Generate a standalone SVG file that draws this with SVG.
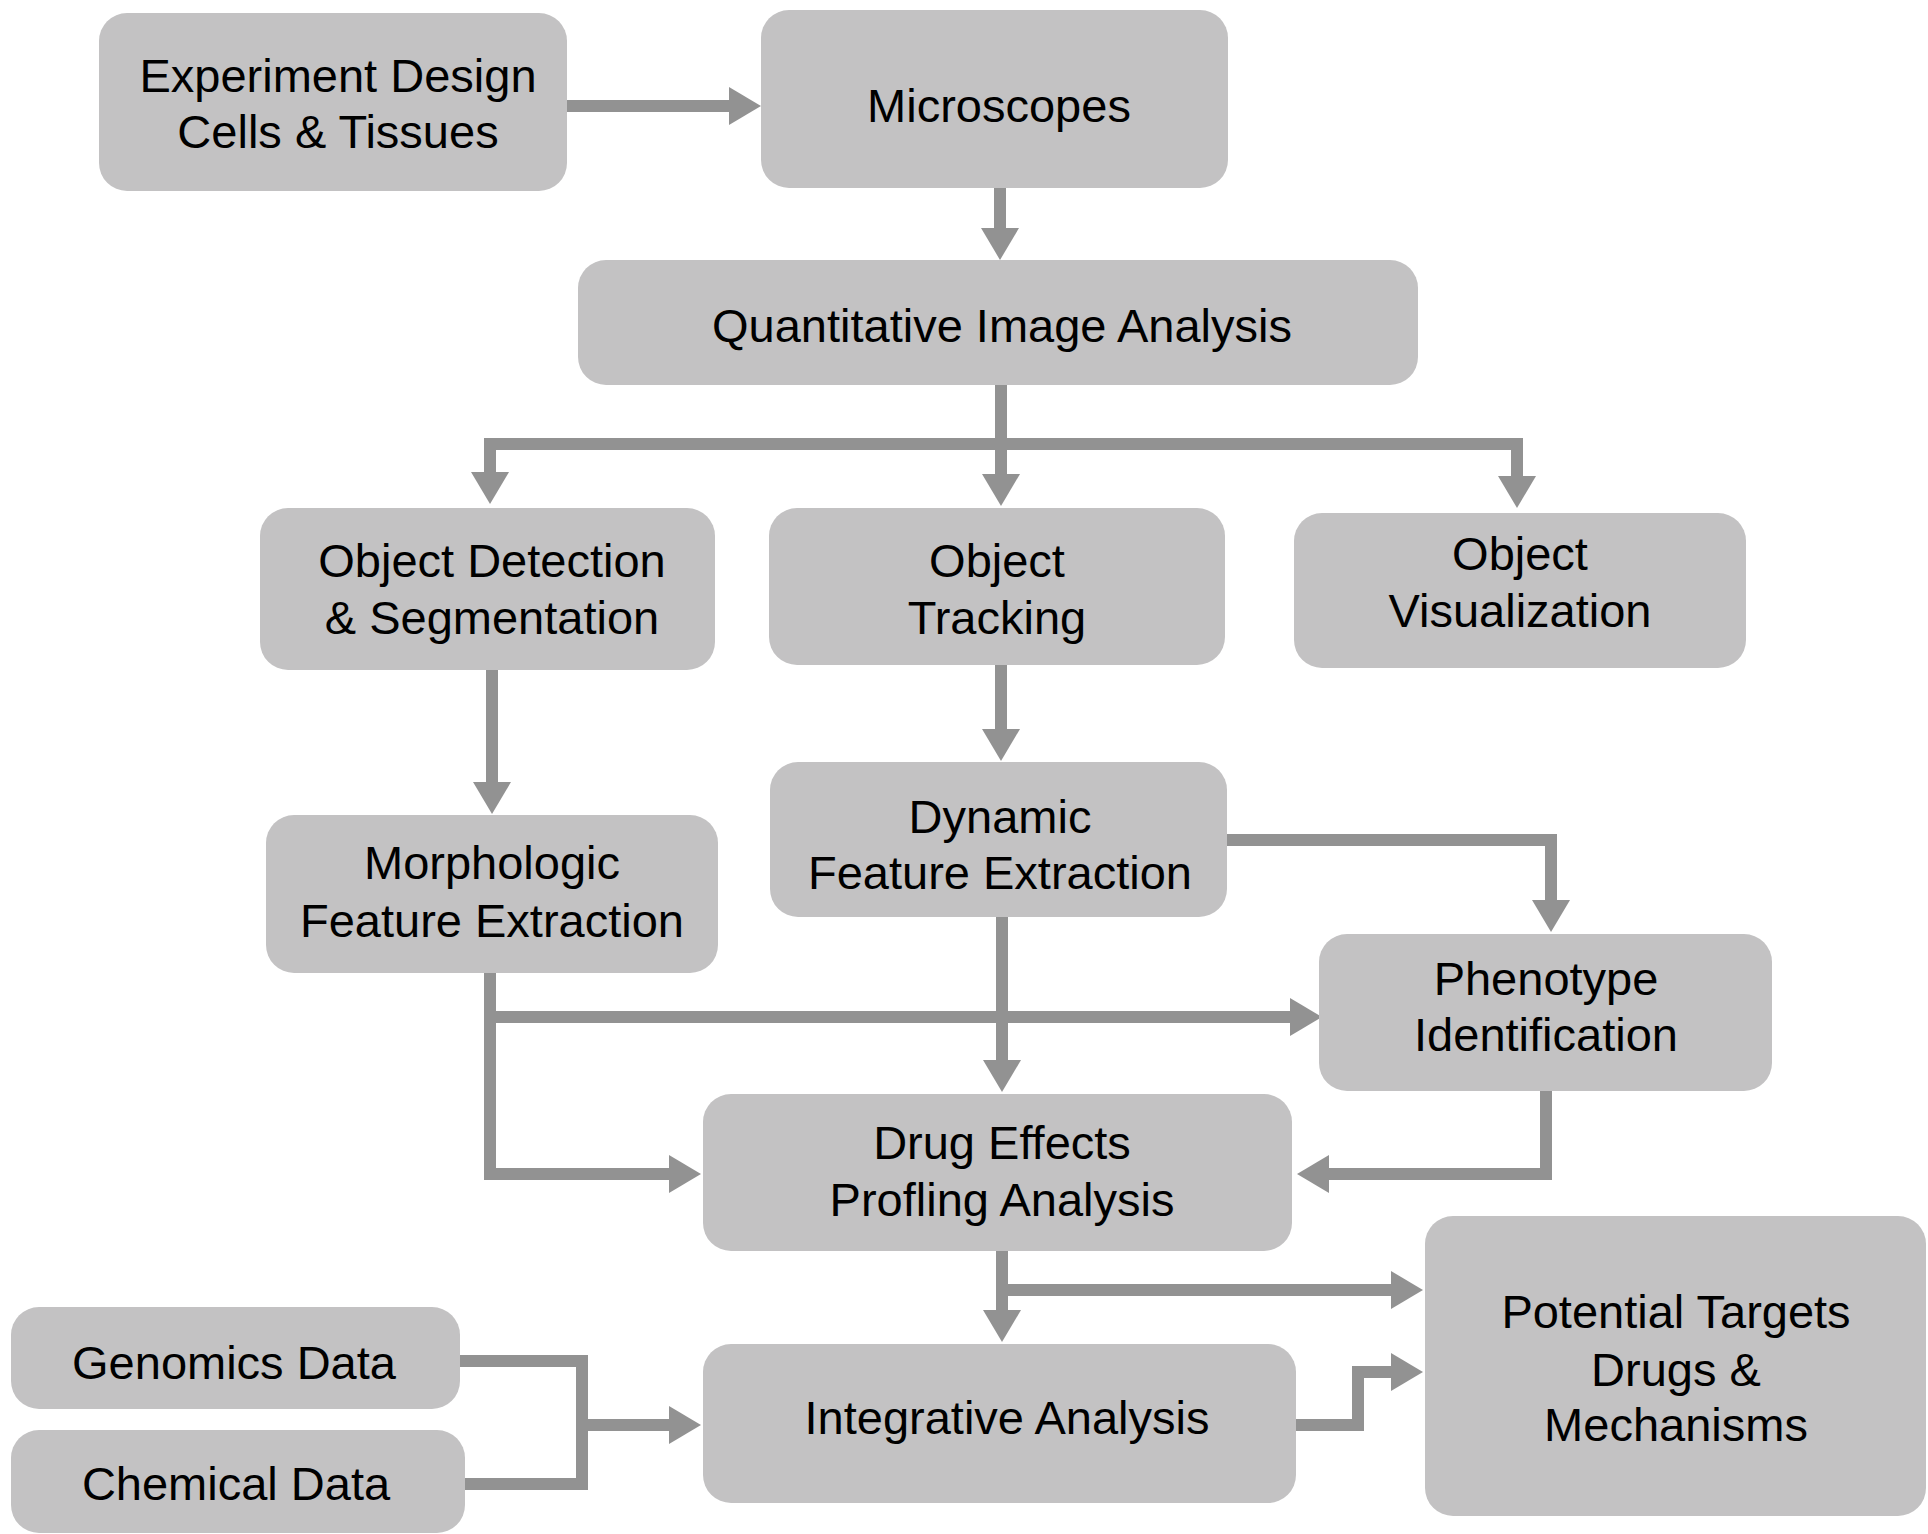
<svg xmlns="http://www.w3.org/2000/svg" width="1928" height="1534" viewBox="0 0 1928 1534">
<style>
.box{fill:#c3c2c3;}
.lbl{font-family:"Liberation Sans",Arial,sans-serif;font-size:47px;fill:#000;text-anchor:middle;}
.con{fill:none;stroke:#929292;stroke-width:12;stroke-linejoin:miter;}
</style>
<defs>
<marker id="ah" markerUnits="userSpaceOnUse" markerWidth="34" markerHeight="38" refX="0" refY="19" orient="auto" overflow="visible">
<path d="M0,0 L32,19 L0,38 Z" fill="#929292"/>
</marker>
</defs>
<rect width="1928" height="1534" fill="#ffffff"/>
<g id="connectors">
<path class="con" d="M567,106 H729" marker-end="url(#ah)"/>
<path class="con" d="M1000,188 V228" marker-end="url(#ah)"/>
<path class="con" d="M1001,385 V474" marker-end="url(#ah)"/>
<path class="con" d="M1001,444 H490 V472" marker-end="url(#ah)"/>
<path class="con" d="M1001,444 H1517 V476" marker-end="url(#ah)"/>
<path class="con" d="M492,670 V782" marker-end="url(#ah)"/>
<path class="con" d="M1001,665 V729" marker-end="url(#ah)"/>
<path class="con" d="M1227,840 H1551 V900" marker-end="url(#ah)"/>
<path class="con" d="M490,973 V1174 H669" marker-end="url(#ah)"/>
<path class="con" d="M490,1017 H1290" marker-end="url(#ah)"/>
<path class="con" d="M1002,917 V1060" marker-end="url(#ah)"/>
<path class="con" d="M1546,1091 V1174 H1329" marker-end="url(#ah)"/>
<path class="con" d="M1002,1251 V1310" marker-end="url(#ah)"/>
<path class="con" d="M1002,1290 H1391" marker-end="url(#ah)"/>
<path class="con" d="M460,1361 H582 V1484 H465"/>
<path class="con" d="M582,1425 H669" marker-end="url(#ah)"/>
<path class="con" d="M1296,1425 H1358 V1372 H1391" marker-end="url(#ah)"/>
</g>
<g id="n-experiment"><rect class="box" x="99" y="13" width="468" height="178" rx="28"/><text class="lbl" x="338" y="92">Experiment Design</text><text class="lbl" x="338" y="148">Cells &amp; Tissues</text></g>
<g id="n-microscopes"><rect class="box" x="761" y="10" width="467" height="178" rx="28"/><text class="lbl" x="999" y="122">Microscopes</text></g>
<g id="n-quant"><rect class="box" x="578" y="260" width="840" height="125" rx="28"/><text class="lbl" x="1002" y="342">Quantitative Image Analysis</text></g>
<g id="n-objdet"><rect class="box" x="260" y="508" width="455" height="162" rx="28"/><text class="lbl" x="492" y="577">Object Detection</text><text class="lbl" x="492" y="634">&amp; Segmentation</text></g>
<g id="n-objtrack"><rect class="box" x="769" y="508" width="456" height="157" rx="28"/><text class="lbl" x="997" y="577">Object</text><text class="lbl" x="997" y="634">Tracking</text></g>
<g id="n-objvis"><rect class="box" x="1294" y="513" width="452" height="155" rx="28"/><text class="lbl" x="1520" y="570">Object</text><text class="lbl" x="1520" y="627">Visualization</text></g>
<g id="n-morph"><rect class="box" x="266" y="815" width="452" height="158" rx="28"/><text class="lbl" x="492" y="879">Morphologic</text><text class="lbl" x="492" y="937">Feature Extraction</text></g>
<g id="n-dynamic"><rect class="box" x="770" y="762" width="457" height="155" rx="28"/><text class="lbl" x="1000" y="833">Dynamic</text><text class="lbl" x="1000" y="889">Feature Extraction</text></g>
<g id="n-pheno"><rect class="box" x="1319" y="934" width="453" height="157" rx="28"/><text class="lbl" x="1546" y="995">Phenotype</text><text class="lbl" x="1546" y="1051">Identification</text></g>
<g id="n-drug"><rect class="box" x="703" y="1094" width="589" height="157" rx="28"/><text class="lbl" x="1002" y="1159">Drug Effects</text><text class="lbl" x="1002" y="1216">Profling Analysis</text></g>
<g id="n-integr"><rect class="box" x="703" y="1344" width="593" height="159" rx="28"/><text class="lbl" x="1007" y="1434">Integrative Analysis</text></g>
<g id="n-potential"><rect class="box" x="1425" y="1216" width="501" height="300" rx="28"/><text class="lbl" x="1676" y="1328">Potential Targets</text><text class="lbl" x="1676" y="1386">Drugs &amp;</text><text class="lbl" x="1676" y="1441">Mechanisms</text></g>
<g id="n-genomics"><rect class="box" x="11" y="1307" width="449" height="102" rx="28"/><text class="lbl" x="234" y="1379">Genomics Data</text></g>
<g id="n-chemical"><rect class="box" x="11" y="1430" width="454" height="103" rx="28"/><text class="lbl" x="236" y="1500">Chemical Data</text></g>
</svg>
